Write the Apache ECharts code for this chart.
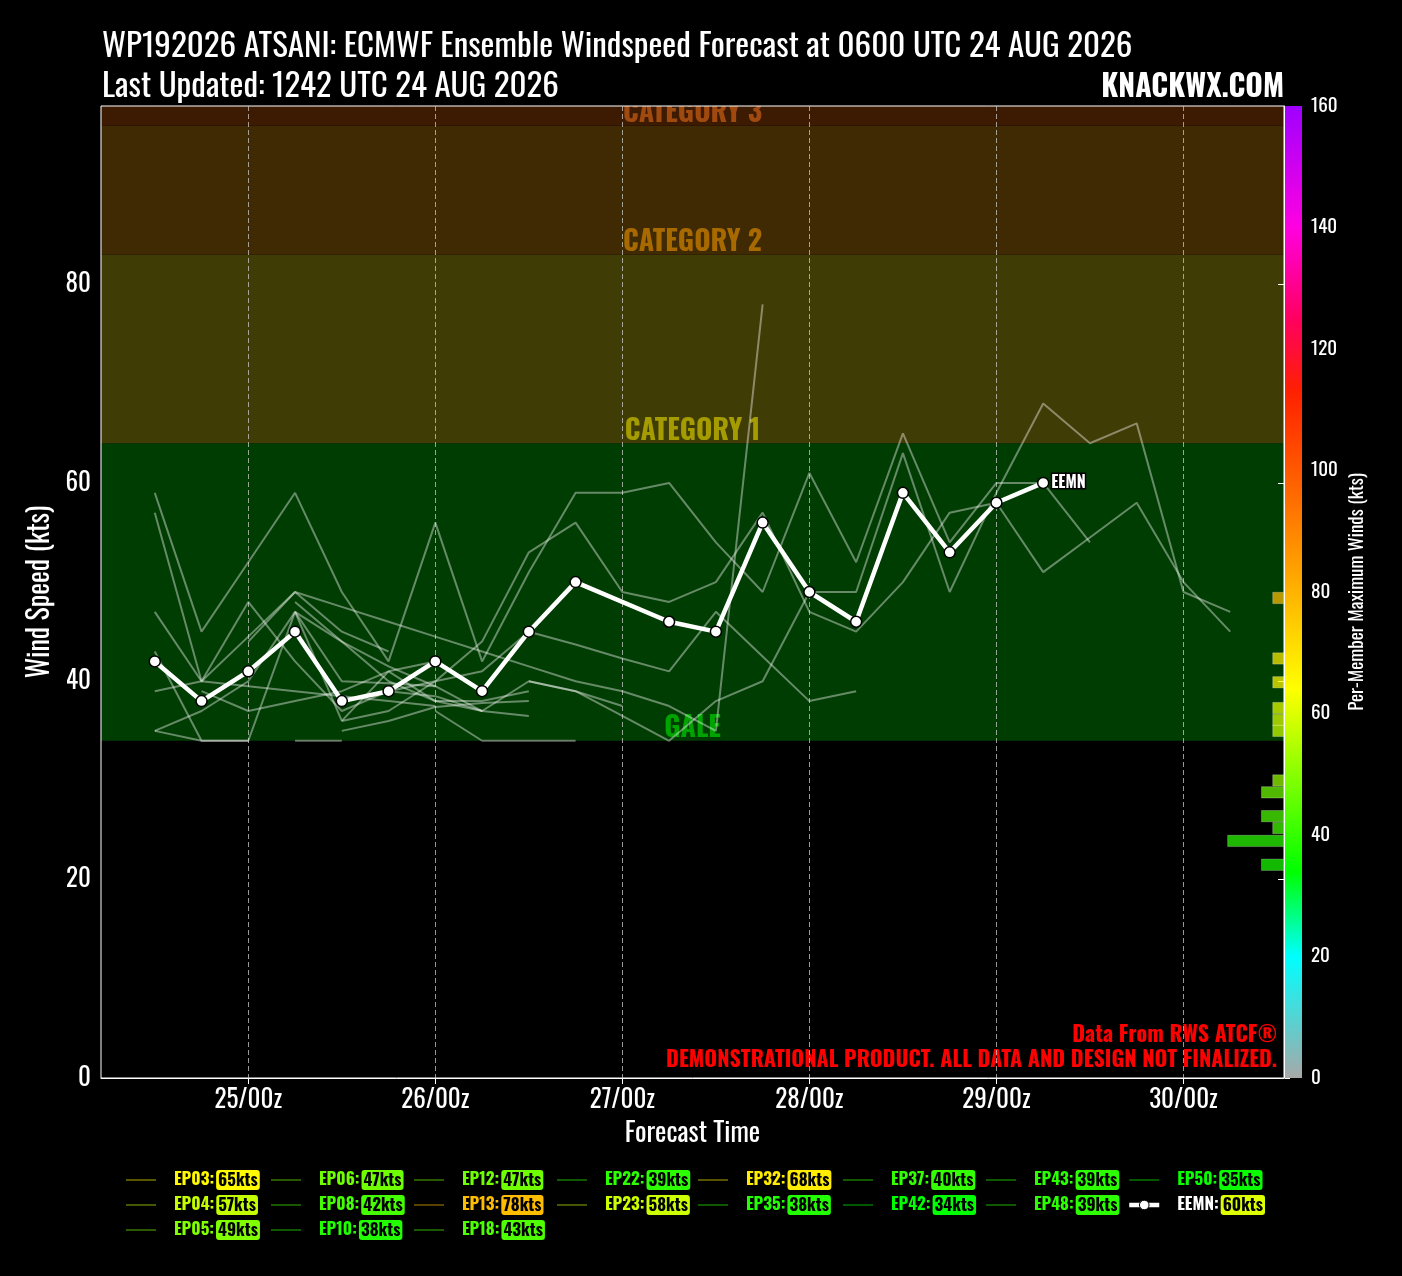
<!DOCTYPE html>
<html><head><meta charset="utf-8">
<script src="https://cdn.jsdelivr.net/npm/echarts@6/dist/echarts.min.js"></script>
<style>html,body{margin:0;padding:0;background:#000;}#chart{width:1402px;height:1276px;}</style>
</head><body><div id="chart"></div>
<script>
const FONT = "'Oswald','Liberation Sans Narrow','DejaVu Sans Condensed','Roboto Condensed','Noto Sans',sans-serif";

// forecast hours after 24 AUG 00z (24/12z ... 30/06z)
const FCST_HOURS = [12,18,24,30,36,42,48,54,60,66,72,78,84,90,96,102,108,114,120,126,132,138,144,150];
const DAY_TICK_HOURS = [24,48,72,96,120,144];
const Y_TICKS = [0,20,40,60,80];
const X_MIN = 5.1, X_MAX = 156.9, Y_MAX = 98;

// ensemble members (kt), null = no value
const EP03 = [59,45,52,59,49,42,56,42,51,59,59,60,54,49,61,52,65,54,60,60,54];
const EP04 = [null,null,null,48,44,40,38];
const EP05 = [null,null,44,49,45,43];
const EP06 = [null,null,null,47,44,41.5,39.5,37];
const EP08 = [null,39,37,38,39,41,42];
const EP10 = [null,null,null,null,35,36,37.4,37.8,38];
const EP12 = [47,40,48,42,37,39,40,41,45,43.7,42.3,41,47,42.5,38,39];
const EP13 = [57,40,44.5,49,47.5,46,44.5,43,41.5,40,39,37.5,35,78];
const EP18 = [43,34,34,47,40,39.8,39.5];
const EP22 = [null,null,null,null,null,null,38,38,39];
const EP23 = [null,null,null,null,36,37,40,44,53,56,49,48,50,57,47,45,50,57,58,51,54.5,58,50,45];
const EP32 = [35,37,40,47,36,41,38,37,40,39,36.5,34,38,40,49,49,63,49,59,68,64,66,49,47];
const EP35 = [null,null,null,34,34];
const EP37 = [39,40,39.5,39,38.5,38,37.5];
const EP42 = [null,null,null,null,null,null,37,34,34,34];
const EP43 = [null,null,null,null,null,null,null,null,40,39,37.5];
const EP48 = [null,null,null,null,null,39,38.5,37,36.5];
const EP50 = [35,34,34];
const EEMN = [42,38,41,45,38,39,42,39,45,50,null,46,45,56,49,46,59,53,58,60];

const MEMBER_NAMES = ['EP03','EP04','EP05','EP06','EP08','EP10','EP12','EP13','EP18','EP22','EP23','EP32','EP35','EP37','EP42','EP43','EP48','EP50'];
const MEMBER_WIND = [EP03,EP04,EP05,EP06,EP08,EP10,EP12,EP13,EP18,EP22,EP23,EP32,EP35,EP37,EP42,EP43,EP48,EP50];
const MEMBER_MAX = [65,57,49,47,42,38,47,78,43,39,58,68,38,40,34,39,39,35];
const EEMN_MAX = 60;
const LEGEND_COLUMN_SIZES = [3,3,3,2,2,2,2,2];

// right-side histogram
const HIST_KT = [48.4,42.3,39.9,37.3,36.1,35.0,30.0,28.8,26.4,25.2,23.9,21.5];
const HIST_COUNT = [1,1,1,1,1,1,1,2,2,1,5,2];
const HIST_COLOR_KT = [78,68,65,61,60,58,52,47,43,42,39,37];

// intensity bands
const BAND_NAMES = ['GALE','CATEGORY 1','CATEGORY 2','CATEGORY 3'];
const BAND_LOW = [34,64,83,96];
const BAND_HIGH = [64,83,96,200];
const BAND_FILL = ['#003d02','#403c05','#3f2a03','#3d1b03'];
const BAND_TEXT = ['#00a400','#a49c00','#a86a00','#a04a10'];

// colour map
const CMAP_KT = [0,20,34,64,83,96,113,125,140,160];
const CMAP_COLOR = ['#a8a8a8','#00ffff','#00ff00','#ffff00','#ffa500','#ff6a00','#ff2000','#ff0060','#ff00e0','#a000ff'];

function hex2rgb(h){return [parseInt(h.slice(1,3),16),parseInt(h.slice(3,5),16),parseInt(h.slice(5,7),16)];}
function colorFor(v, a){
  let i = 0; while (i < CMAP_KT.length-2 && v > CMAP_KT[i+1]) i++;
  const t = Math.max(0, Math.min(1, (v-CMAP_KT[i])/(CMAP_KT[i+1]-CMAP_KT[i])));
  const c0 = hex2rgb(CMAP_COLOR[i]), c1 = hex2rgb(CMAP_COLOR[i+1]);
  const c = c0.map((x,k)=>Math.round(x+(c1[k]-x)*t));
  return 'rgba('+c[0]+','+c[1]+','+c[2]+','+(a==null?1:a)+')';
}

const series = [];
series.push({
  type:'custom', name:'bands', xAxisIndex:0, yAxisIndex:0, z:-1, silent:true, clip:true,
  data: BAND_LOW.map((lo,i)=>[X_MIN, lo, i]), encode:{x:0,y:1},
  renderItem(params, api){
    const i = params.dataIndex, cs = params.coordSys;
    const pLo = api.coord([X_MIN, BAND_LOW[i]]), pHi = api.coord([X_MIN, BAND_HIGH[i]]);
    return {type:'group', children:[
      {type:'rect', shape:{x:cs.x, y:pHi[1], width:cs.width, height:pLo[1]-pHi[1]}, style:{fill:BAND_FILL[i]}},
      {type:'text', style:{text:BAND_NAMES[i], x:cs.x+cs.width/2, y:pLo[1]+2, align:'center', verticalAlign:'bottom',
        fill:BAND_TEXT[i], font:'bold 28px '+FONT}}
    ]};
  }
});

MEMBER_NAMES.forEach((name,m)=>{
  series.push({
    type:'line', name, xAxisIndex:0, yAxisIndex:0, z:2, silent:true, symbol:'none',
    data: MEMBER_WIND[m].map((v,i)=> v==null?null:[FCST_HOURS[i], v]).filter(d=>d),
    lineStyle:{color:'rgba(255,255,255,0.4)', width:2},
    itemStyle:{color:colorFor(MEMBER_MAX[m],0.35)}
  });
});

series.push({
  type:'line', name:'EEMN', xAxisIndex:0, yAxisIndex:0, z:4, silent:true,
  data: EEMN.map((v,i)=> v==null?null:[FCST_HOURS[i], v]).filter(d=>d),
  symbol:'circle', symbolSize:11, showAllSymbol:true,
  lineStyle:{color:'#ffffff', width:4.5},
  itemStyle:{color:'#ffffff', borderColor:'#000000', borderWidth:1.5},
  endLabel:{show:true, formatter:'EEMN', color:'#fff', fontFamily:FONT, fontWeight:'bold', fontSize:16,
    textBorderColor:'#000', textBorderWidth:3, distance:8}
});

series.push({
  type:'custom', name:'hist', xAxisIndex:1, yAxisIndex:0, z:6, silent:true,
  data: HIST_KT.map((k,i)=>[k, HIST_COUNT[i], i]), encode:{y:0, x:1},
  renderItem(params, api){
    const k = api.value(0), n = api.value(1), i = params.dataIndex;
    const a = api.coord([0, k+0.57]), b = api.coord([n, k-0.57]);
    return {type:'rect', shape:{x:Math.min(a[0],b[0]), y:a[1], width:Math.abs(b[0]-a[0]), height:b[1]-a[1]},
      style:{fill:colorFor(HIST_COLOR_KT[i],0.72), stroke:'rgba(255,255,255,0.25)', lineWidth:1}};
  }
});

series.push({
  type:'custom', name:'cbar', xAxisIndex:2, yAxisIndex:1, silent:true,
  data:[[0,0]],
  renderItem(params, api){
    const a = api.coord([0,160]), b = api.coord([1,0]);
    return {type:'rect', shape:{x:a[0], y:a[1], width:b[0]-a[0], height:b[1]-a[1]},
      style:{fill:new echarts.graphic.LinearGradient(0,1,0,0, CMAP_KT.map((k,i)=>({offset:k/160, color:CMAP_COLOR[i]})))}};
  }
});

// legends: one vertical legend per column
const LEGEND_ITEMS = MEMBER_NAMES.concat(['EEMN']);
const LEGEND_MAX = MEMBER_MAX.concat([EEMN_MAX]);
const rich = {};
LEGEND_ITEMS.forEach((n,i)=>{
  const c = n==='EEMN' ? '#ffffff' : colorFor(LEGEND_MAX[i]);
  rich['n'+n] = {color:c, fontFamily:FONT, fontWeight:'bold', fontSize:17, padding:[0,2,0,13]};
  rich['b'+n] = {color:'#000', backgroundColor:colorFor(LEGEND_MAX[i]), fontFamily:FONT, fontWeight:'bold', fontSize:17,
    borderRadius:3, padding:[2,2,1,2], borderColor:'rgba(0,0,0,0.5)', borderWidth:1};
});
const COL_LEFT = [125,270,413,556,697,842,985,1127];
const legends = [];
let idx = 0;
LEGEND_COLUMN_SIZES.forEach((sz,c)=>{
  const data = [];
  for (let k=0;k<sz;k++){
    const n = LEGEND_ITEMS[idx], m = idx; idx++;
    if (n==='EEMN') data.push({name:n, lineStyle:{color:'#ffffff', width:4.5}, itemStyle:{color:'#ffffff', borderColor:'#000', borderWidth:1}});
    else data.push({name:n, lineStyle:{color:colorFor(LEGEND_MAX[m],0.35), width:2}, itemStyle:{color:colorFor(LEGEND_MAX[m],0.35), opacity:0}});
  }
  legends.push({
    orient:'vertical', left:COL_LEFT[c], top:1169, padding:0, itemGap:3, itemWidth:30, itemHeight:12,
    selectedMode:false, data,
    formatter:(name)=>{const i = LEGEND_ITEMS.indexOf(name); return '{n'+name+'|'+name+':}{b'+name+'|'+LEGEND_MAX[i]+'kts}';},
    textStyle:{rich, fontFamily:FONT, fontSize:17}
  });
});

const option = {
  animation:false,
  backgroundColor:'#000',
  textStyle:{fontFamily:FONT},
  title:[
    {text:'WP192026 ATSANI: ECMWF Ensemble Windspeed Forecast at 0600 UTC 24 AUG 2026', left:97, top:25,
      textStyle:{color:'#fff', fontSize:33, fontWeight:'normal', fontFamily:FONT}},
    {text:'Last Updated: 1242 UTC 24 AUG 2026', left:97, top:65,
      textStyle:{color:'#fff', fontSize:33, fontWeight:'normal', fontFamily:FONT}},
    {text:'KNACKWX.COM', right:113, top:68, textStyle:{color:'#fff', fontSize:30, fontWeight:'bold', fontFamily:FONT}}
  ],
  legend: legends,
  grid:[
    {left:101, top:106, width:1183, height:972, show:true, borderColor:'#ffffff', borderWidth:1, backgroundColor:'transparent'},
    {left:1285, top:106, width:17, height:972, show:false}
  ],
  xAxis:[
    {type:'value', gridIndex:0, min:X_MIN, max:X_MAX, position:'bottom',
      name:'Forecast Time', nameLocation:'middle', nameGap:42,
      nameTextStyle:{color:'#fff', fontSize:27, fontFamily:FONT},
      axisLine:{show:true, lineStyle:{color:'#fff', width:1}},
      axisTick:{show:true, customValues:DAY_TICK_HOURS, length:6, lineStyle:{color:'#fff'}},
      axisLabel:{customValues:DAY_TICK_HOURS, color:'#fff', fontSize:25, fontFamily:FONT, margin:10,
        formatter:(h)=> (24 + Math.round(h/24)) + '/00z'},
      splitLine:{show:true, lineStyle:{color:'rgba(200,200,200,0.75)', type:[5,3], width:1}}},
    {type:'value', gridIndex:0, min:0, max:105, inverse:true, show:false, splitLine:{show:false}},
    {type:'value', gridIndex:1, min:0, max:1, show:false, splitLine:{show:false}}
  ],
  yAxis:[
    {type:'value', gridIndex:0, min:0, max:Y_MAX,
      name:'Wind Speed (kts)', nameLocation:'middle', nameGap:45, nameRotate:90,
      nameTextStyle:{color:'#fff', fontSize:28, fontFamily:FONT},
      axisLine:{show:true, lineStyle:{color:'#fff', width:1}},
      axisTick:{show:true, customValues:Y_TICKS, length:6, lineStyle:{color:'#fff'}},
      axisLabel:{customValues:Y_TICKS, color:'#fff', fontSize:25, fontFamily:FONT, margin:10},
      splitLine:{show:false}},
    {type:'value', gridIndex:1, min:0, max:160, interval:20, position:'right',
      name:'Per-Member Maximum Winds (kts)', nameLocation:'middle', nameGap:46, nameRotate:90,
      nameTextStyle:{color:'#fff', fontSize:19, fontFamily:FONT},
      axisLine:{show:false},
      axisTick:{show:true, length:5, lineStyle:{color:'#fff'}},
      axisLabel:{color:'#fff', fontSize:19, fontFamily:FONT, margin:9},
      splitLine:{show:false}}
  ],
  graphic:[
    {type:'text', right:125, top:1024, style:{text:'Data From RWS ATCF®', fill:'#ff0000', font:'bold 22px '+FONT, align:'right'}},
    {type:'text', right:125, top:1049, style:{text:'DEMONSTRATIONAL PRODUCT. ALL DATA AND DESIGN NOT FINALIZED.', fill:'#ff0000', font:'bold 22px '+FONT, align:'right'}}
  ],
  series
};
const chart = echarts.init(document.getElementById('chart'));
chart.setOption(option);
</script></body></html>
